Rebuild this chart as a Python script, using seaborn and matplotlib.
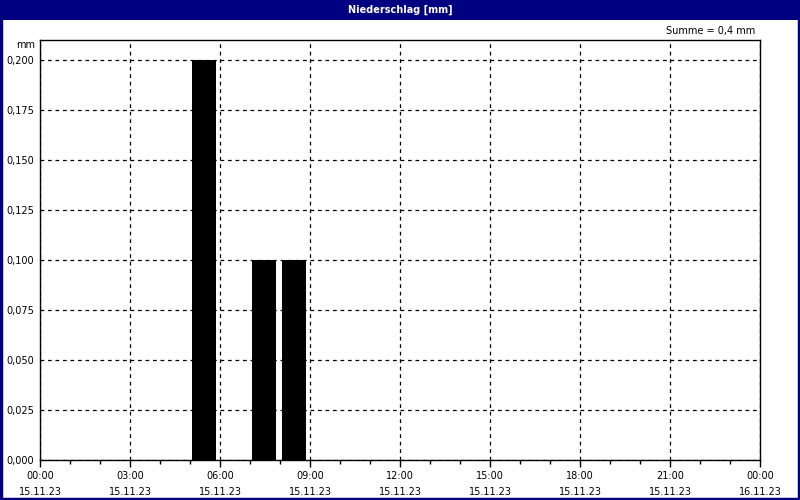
import numpy as np
import pandas as pd
import seaborn as sns
import matplotlib.pyplot as plt
from matplotlib.patches import Rectangle
from matplotlib.ticker import FuncFormatter, MultipleLocator

# hourly precipitation on 15.11.23 (start hour of the bin, mm)
hours = [5, 7, 8]
rain_mm = [0.2, 0.1, 0.1]
major_labels = ["00:00\n15.11.23", "03:00\n15.11.23", "06:00\n15.11.23",
                "09:00\n15.11.23", "12:00\n15.11.23", "15:00\n15.11.23",
                "18:00\n15.11.23", "21:00\n15.11.23", "00:00\n16.11.23"]
total_text = "Summe = 0,4 mm"

df = pd.DataFrame({"hour": np.array(hours) + 0.47, "mm": rain_mm})

sns.set_style("white")
plt.rcParams['font.family'] = ['DejaVu Sans']
plt.rcParams['text.color'] = 'black'
plt.rcParams['xtick.color'] = 'black'
plt.rcParams['ytick.color'] = 'black'
fig = plt.figure(figsize=(8, 5), dpi=100)
fig.patch.set_facecolor("white")

# blue title bar and frame
navy = "#000080"
fig.patches.append(Rectangle((0, 1 - 20 / 500), 1, 20 / 500, transform=fig.transFigure,
                             facecolor=navy, edgecolor="none", zorder=0))
fig.patches.append(Rectangle((0.001, 0.002), 0.998, 0.996, transform=fig.transFigure,
                             facecolor="none", edgecolor=navy, lw=2.5, zorder=0))
fig.text(0.5, 1 - 10 / 500, "Niederschlag [mm]", color="white", fontsize=7,
         fontweight="bold", ha="center", va="center")

ax = fig.add_axes([40 / 800, 40 / 500, 720 / 800, 420 / 500])
sns.barplot(data=df, x="hour", y="mm", native_scale=True, width=0.8,
            color="black", saturation=1, edgecolor="none", ax=ax, zorder=3)

ax.set_xlim(0, 24)
ax.set_ylim(0, 0.21)
ax.xaxis.set_minor_locator(MultipleLocator(1))
ax.set_xticks(range(0, 25, 3))
ax.set_xticklabels(major_labels, fontsize=7, linespacing=1.75)
ax.set_yticks(np.arange(0, 0.2001, 0.025))
ax.yaxis.set_major_formatter(FuncFormatter(lambda v, p: f"{v:.3f}".replace(".", ",")))
ax.tick_params(axis="y", labelsize=7, length=0, pad=4)
ax.tick_params(axis="x", which="major", length=5, width=1, color="black", pad=3, direction="out", bottom=True)
ax.tick_params(axis="x", which="minor", length=3, width=1, color="black", direction="out", bottom=True)
ax.set_xlabel("")
ax.set_ylabel("")

ax.grid(True, axis="both", which="major", color="black", lw=0.9, linestyle=(0, (3, 3)), zorder=1)
ax.set_axisbelow(True)
for s in ax.spines.values():
    s.set_color("black")
    s.set_linewidth(1)
    s.set_visible(True)

fig.text(35 / 800, 1 - 45 / 500, "mm", fontsize=7, ha="right", va="center")
fig.text(755 / 800, 1 - 31 / 500, total_text, fontsize=7, ha="right", va="center")

fig.savefig("out.png", dpi=100)
